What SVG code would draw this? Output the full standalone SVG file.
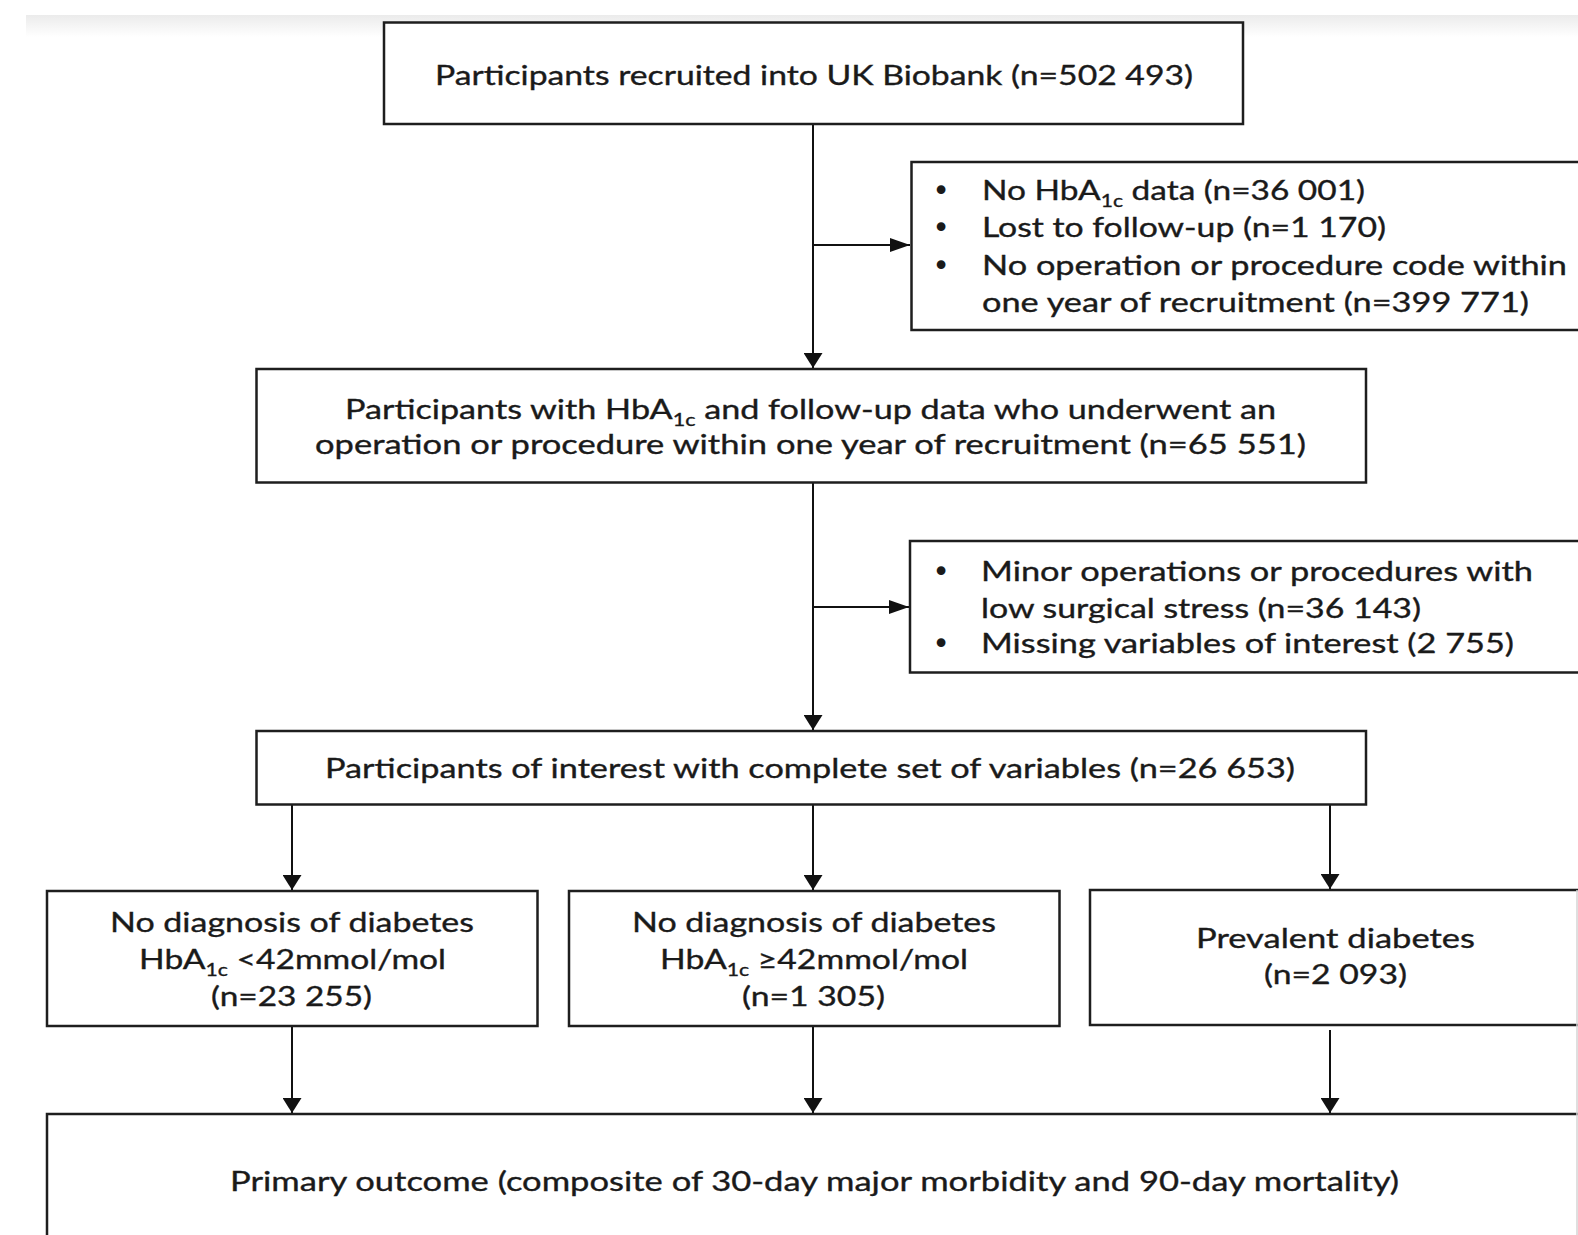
<svg xmlns="http://www.w3.org/2000/svg" width="1578" height="1235" viewBox="0 0 1578 1235">
<defs>
  <linearGradient id="topShade" x1="0" y1="0" x2="0" y2="1">
    <stop offset="0" stop-color="#ebebeb"/>
    <stop offset="1" stop-color="#ffffff"/>
  </linearGradient>
  <marker id="arrowV" markerUnits="userSpaceOnUse" markerWidth="15" markerHeight="19" refX="15" refY="9.5" orient="auto">
    <path d="M0,0 L15,9.5 L0,19 Z" fill="#111"/>
  </marker>
  <marker id="arrowH" markerUnits="userSpaceOnUse" markerWidth="20" markerHeight="14" refX="20" refY="7" orient="auto">
    <path d="M0,0 L20,7 L0,14 Z" fill="#111"/>
  </marker>
  <style>
    .box { fill: #ffffff; stroke: #1e1e1e; stroke-width: 2.5; }
    .conn { fill: none; stroke: #111111; stroke-width: 2; }
    .v { marker-end: url(#arrowV); }
    .h { marker-end: url(#arrowH); }
    .t { font-family: Lato, "Open Sans", sans-serif; font-size: 27px; fill: #1a1a1a; stroke: #1a1a1a; stroke-width: 0.35; }
    .bul { font-family: "DejaVu Sans", sans-serif; font-size: 30px; fill: #1a1a1a; text-anchor: middle; }
    .sub { font-size: 17px; }
  </style>
</defs>

<rect x="0" y="0" width="1578" height="1235" fill="#ffffff"/>
<rect x="26" y="15" width="1552" height="22" fill="url(#topShade)"/>

<g id="connectors">
  <line class="conn v" x1="813" y1="124" x2="813" y2="368"/>
  <line class="conn h" x1="813" y1="245" x2="910" y2="245"/>
  <line class="conn v" x1="813" y1="482.5" x2="813" y2="730"/>
  <line class="conn h" x1="813" y1="607" x2="909" y2="607"/>
  <line class="conn v" x1="292" y1="804.5" x2="292" y2="890"/>
  <line class="conn v" x1="813" y1="804.5" x2="813" y2="890"/>
  <line class="conn v" x1="1330" y1="804.5" x2="1330" y2="889"/>
  <line class="conn v" x1="292" y1="1026" x2="292" y2="1113"/>
  <line class="conn v" x1="813" y1="1026" x2="813" y2="1113"/>
  <line class="conn v" x1="1330" y1="1030" x2="1330" y2="1113"/>
</g>

<g id="recruited">
  <rect class="box" x="384" y="22.5" width="859" height="101.5"/>
  <text class="t" x="435" y="85" textLength="758" lengthAdjust="spacingAndGlyphs">Participants recruited into UK Biobank (n=502 493)</text>
</g>

<g id="exclusion1">
  <rect class="box" x="911.5" y="162" width="700" height="168"/>
  <text class="bul" x="941" y="201">•</text>
  <text class="bul" x="941" y="238">•</text>
  <text class="bul" x="941" y="276">•</text>
  <text class="t" x="982" y="200" textLength="383" lengthAdjust="spacingAndGlyphs">No HbA<tspan class="sub" dy="7">1c</tspan><tspan dy="-7"> data (n=36 001)</tspan></text>
  <text class="t" x="982" y="237" textLength="404" lengthAdjust="spacingAndGlyphs">Lost to follow-up (n=1 170)</text>
  <text class="t" x="982" y="275" textLength="585" lengthAdjust="spacingAndGlyphs">No operation or procedure code within</text>
  <text class="t" x="982" y="312" textLength="547" lengthAdjust="spacingAndGlyphs">one year of recruitment (n=399 771)</text>
</g>

<g id="hba1c-followup">
  <rect class="box" x="256.5" y="369" width="1109.5" height="113.5"/>
  <text class="t" x="345" y="419" textLength="931" lengthAdjust="spacingAndGlyphs">Participants with HbA<tspan class="sub" dy="7">1c</tspan><tspan dy="-7"> and follow-up data who underwent an</tspan></text>
  <text class="t" x="315" y="454" textLength="991" lengthAdjust="spacingAndGlyphs">operation or procedure within one year of recruitment (n=65 551)</text>
</g>

<g id="exclusion2">
  <rect class="box" x="910" y="541" width="700" height="131.5"/>
  <text class="bul" x="941" y="582">•</text>
  <text class="bul" x="941" y="653.5">•</text>
  <text class="t" x="981" y="581" textLength="552" lengthAdjust="spacingAndGlyphs">Minor operations or procedures with</text>
  <text class="t" x="981" y="618" textLength="440" lengthAdjust="spacingAndGlyphs">low surgical stress (n=36 143)</text>
  <text class="t" x="981" y="652.5" textLength="533" lengthAdjust="spacingAndGlyphs">Missing variables of interest (2 755)</text>
</g>

<g id="complete-set">
  <rect class="box" x="256.5" y="731" width="1109.5" height="73.5"/>
  <text class="t" x="325" y="778" textLength="970" lengthAdjust="spacingAndGlyphs">Participants of interest with complete set of variables (n=26 653)</text>
</g>

<g id="no-diabetes-low">
  <rect class="box" x="47" y="891" width="490.5" height="135"/>
  <text class="t" x="110" y="932" textLength="364" lengthAdjust="spacingAndGlyphs">No diagnosis of diabetes</text>
  <text class="t" x="139" y="969" textLength="307" lengthAdjust="spacingAndGlyphs">HbA<tspan class="sub" dy="7">1c</tspan><tspan dy="-7"> &lt;42mmol/mol</tspan></text>
  <text class="t" x="211" y="1006" textLength="161" lengthAdjust="spacingAndGlyphs">(n=23 255)</text>
</g>

<g id="no-diabetes-high">
  <rect class="box" x="569" y="891" width="490.5" height="135"/>
  <text class="t" x="632" y="932" textLength="364" lengthAdjust="spacingAndGlyphs">No diagnosis of diabetes</text>
  <text class="t" x="660" y="969" textLength="308" lengthAdjust="spacingAndGlyphs">HbA<tspan class="sub" dy="7">1c</tspan><tspan dy="-7"> ≥42mmol/mol</tspan></text>
  <text class="t" x="742" y="1006" textLength="143" lengthAdjust="spacingAndGlyphs">(n=1 305)</text>
</g>

<g id="prevalent-diabetes">
  <rect class="box" x="1090" y="890" width="520" height="135"/>
  <text class="t" x="1196" y="948" textLength="279" lengthAdjust="spacingAndGlyphs">Prevalent diabetes</text>
  <text class="t" x="1264" y="984" textLength="143" lengthAdjust="spacingAndGlyphs">(n=2 093)</text>
</g>

<g id="primary-outcome">
  <rect class="box" x="47" y="1114" width="1570" height="160"/>
  <text class="t" x="230" y="1191" textLength="1169" lengthAdjust="spacingAndGlyphs">Primary outcome (composite of 30-day major morbidity and 90-day mortality)</text>
</g>

<line x1="1577" y1="890" x2="1577" y2="1235" stroke="#d4d4d4" stroke-width="1.5"/>
</svg>
